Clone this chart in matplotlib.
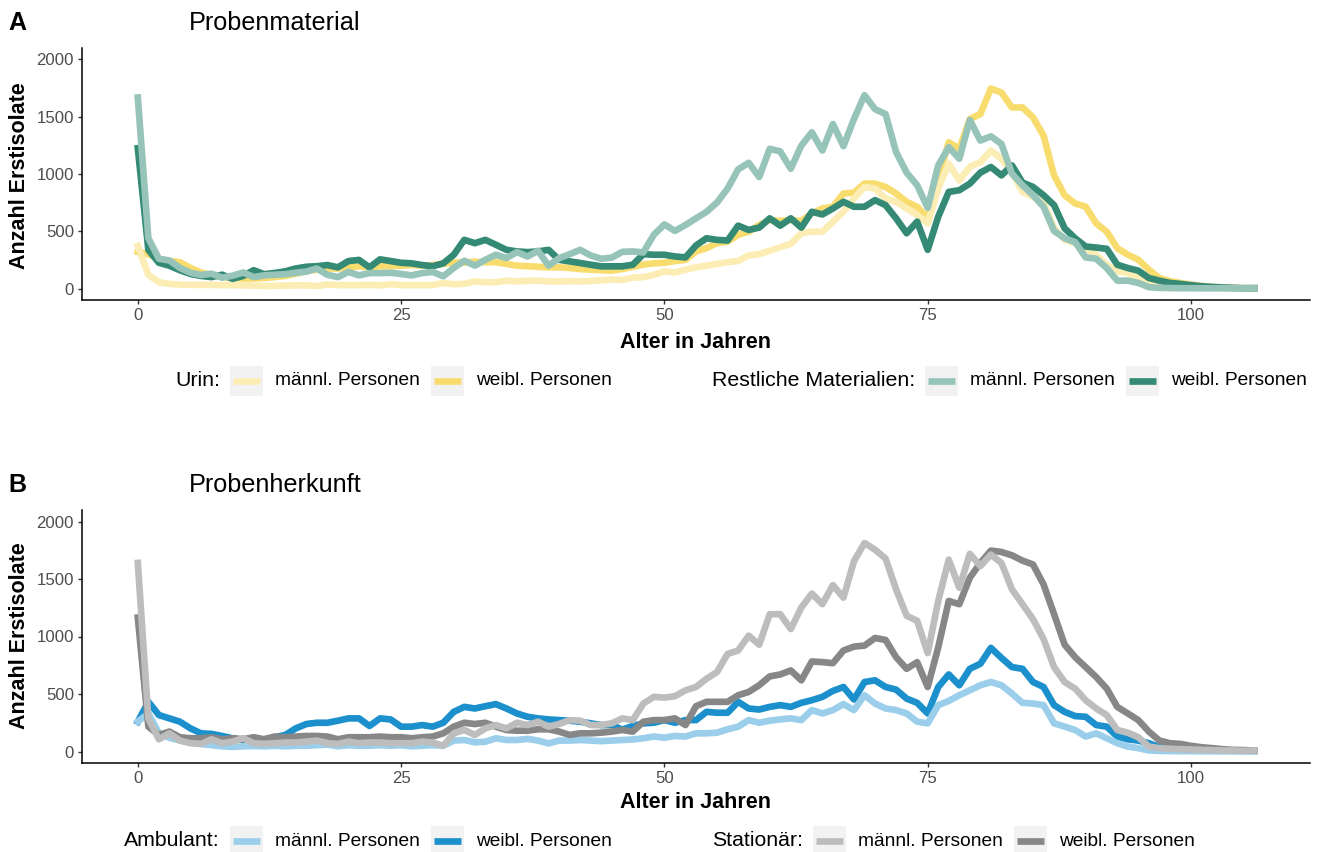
import matplotlib
matplotlib.use("Agg")
import matplotlib.pyplot as plt
from matplotlib.lines import Line2D
from matplotlib.patches import Rectangle
import numpy as np

W, H = 1323, 852
plt.rcParams["font.family"] = ["Liberation Sans", "DejaVu Sans"]

ages = np.arange(0, 107)

# Panel A: Probenmaterial
urin_m = [372, 120, 55, 40, 35, 32, 32, 32, 30, 30,
          28, 26, 22, 24, 26, 28, 28, 22, 35, 30,
          30, 30, 32, 28, 38, 30, 30, 30, 30, 48,
          38, 42, 62, 55, 55, 68, 62, 68, 68, 62,
          62, 64, 62, 66, 72, 80, 75, 95, 100, 120,
          150, 140, 165, 185, 200, 215, 230, 240, 290, 300,
          330, 360, 390, 483, 497, 497, 584, 670, 786, 887,
          873, 786, 757, 699, 642, 569, 873, 1090, 945, 1061,
          1104, 1205, 1133, 1017, 844, 800, 757, 526, 425, 396,
          353, 295, 208, 150, 136, 92, 49, 35, 26, 20,
          14, 12, 9, 6, 4, 3, 2]
urin_w = [320, 300, 260, 240, 230, 180, 140, 115, 100, 92,
          88, 88, 92, 100, 110, 130, 150, 165, 175, 175,
          185, 195, 185, 195, 195, 200, 205, 200, 205, 215,
          230, 225, 235, 230, 230, 215, 200, 195, 190, 185,
          185, 180, 170, 165, 160, 156, 170, 190, 210, 220,
          225, 240, 250, 324, 353, 396, 410, 468, 497, 555,
          598, 590, 598, 590, 656, 699, 714, 829, 838, 916,
          916, 887, 829, 757, 714, 613, 960, 1277, 1220, 1480,
          1523, 1746, 1711, 1581, 1581, 1494, 1335, 988, 815, 743,
          714, 569, 497, 353, 295, 251, 165, 92, 64, 49,
          35, 23, 14, 9, 6, 3, 3]
rest_m = [1668, 440, 260, 245, 180, 138, 118, 130, 95, 112,
          140, 100, 115, 120, 125, 138, 148, 175, 120, 100,
          145, 115, 135, 135, 138, 127, 115, 135, 145, 107,
          180, 243, 200, 251, 295, 266, 318, 280, 330, 200,
          265, 300, 338, 289, 260, 270, 320, 324, 315, 470,
          560, 503, 555, 613, 670, 751, 873, 1040, 1098, 974,
          1220, 1197, 1046, 1248, 1364, 1205, 1436, 1243, 1480, 1688,
          1566, 1523, 1191, 1012, 902, 705, 1075, 1234, 1133, 1471,
          1292, 1329, 1263, 1003, 902, 815, 714, 503, 439, 405,
          272, 260, 179, 69, 69, 49, 12, 6, 4, 3,
          3, 2, 2, 2, 2, 2, 5]
rest_w = [1225, 338, 225, 199, 160, 128, 110, 100, 121, 85,
          110, 160, 125, 136, 150, 175, 190, 195, 205, 185,
          240, 250, 185, 255, 240, 225, 220, 205, 195, 220,
          295, 425, 396, 425, 382, 338, 324, 318, 324, 338,
          251, 237, 223, 208, 194, 194, 194, 208, 300, 295,
          295, 280, 272, 376, 439, 425, 419, 549, 512, 532,
          613, 549, 613, 532, 670, 647, 699, 757, 714, 714,
          772, 728, 613, 483, 584, 338, 627, 844, 858, 916,
          1012, 1061, 988, 1075, 925, 887, 815, 728, 526, 439,
          367, 358, 347, 208, 179, 156, 92, 69, 49, 40,
          29, 20, 14, 9, 6, 3, 3]

# Panel B: Probenherkunft
amb_m = [260, 330, 160, 120, 95, 78, 65, 55, 45, 40,
         45, 48, 45, 50, 45, 50, 50, 55, 60, 45,
         55, 50, 50, 55, 50, 55, 45, 50, 55, 50,
         95, 100, 80, 85, 115, 100, 100, 110, 95, 70,
         95, 95, 100, 95, 90, 95, 100, 105, 115, 130,
         120, 135, 130, 158, 158, 164, 193, 216, 273, 250,
         268, 279, 288, 273, 360, 331, 360, 412, 360, 489,
         417, 374, 360, 331, 259, 245, 403, 440, 489, 532,
         576, 604, 576, 504, 423, 417, 403, 245, 216, 187,
         130, 158, 115, 72, 43, 29, 9, 5, 4, 3,
         3, 2, 2, 1, 1, 1, 1]
amb_w = [259, 432, 317, 288, 259, 201, 158, 153, 135, 115,
         101, 95, 106, 124, 144, 201, 239, 250, 250, 268,
         288, 288, 222, 288, 279, 216, 216, 230, 216, 250,
         345, 388, 374, 394, 412, 374, 331, 302, 288, 279,
         273, 268, 259, 245, 230, 230, 190, 222, 245, 250,
         273, 250, 273, 273, 345, 337, 337, 432, 374, 365,
         388, 403, 388, 423, 446, 475, 527, 561, 452, 604,
         619, 561, 538, 460, 423, 331, 561, 670, 576, 719,
         763, 901, 814, 734, 719, 604, 561, 403, 345, 308,
         302, 230, 216, 130, 106, 95, 72, 37, 29, 20,
         17, 14, 12, 9, 9, 6, 6]
stat_m = [1640, 288, 106, 158, 95, 72, 66, 106, 72, 86,
          115, 72, 66, 72, 78, 78, 86, 95, 72, 66,
          86, 72, 78, 78, 72, 72, 72, 86, 78, 49,
          158, 187, 144, 201, 230, 201, 250, 230, 259, 216,
          239, 273, 268, 230, 230, 245, 288, 273, 417, 475,
          469, 481, 532, 561, 633, 691, 849, 878, 1007, 929,
          1194, 1194, 1065, 1252, 1373, 1281, 1447, 1338, 1655, 1813,
          1755, 1678, 1410, 1180, 1137, 855, 1309, 1669, 1424, 1719,
          1612, 1712, 1640, 1410, 1281, 1151, 978, 734, 604, 547,
          446, 374, 317, 187, 164, 124, 43, 29, 23, 20,
          17, 14, 12, 9, 9, 6, 9]
stat_w = [1165, 216, 144, 173, 124, 115, 115, 124, 106, 115,
          106, 124, 106, 130, 124, 130, 135, 135, 130, 106,
          124, 124, 124, 130, 124, 124, 115, 124, 130, 158,
          216, 250, 239, 250, 216, 187, 181, 181, 193, 193,
          173, 144, 158, 158, 164, 173, 187, 173, 259, 273,
          273, 288, 230, 394, 432, 432, 432, 489, 518, 576,
          653, 670, 705, 619, 783, 777, 768, 878, 912, 921,
          987, 970, 820, 719, 777, 561, 906, 1309, 1281, 1511,
          1640, 1747, 1735, 1706, 1660, 1626, 1453, 1194, 929, 820,
          734, 647, 547, 388, 331, 273, 173, 95, 72, 66,
          49, 37, 29, 20, 14, 12, 9]

y_ticks = [0, 500, 1000, 1500, 2000]
x_ticks = [0, 25, 50, 75, 100]

col_urin_m, col_urin_w = "#FCEDB5", "#F9DC6E"
col_rest_m, col_rest_w = "#97C4B8", "#348A75"
col_amb_m, col_amb_w = "#9BCEEA", "#1C90CC"
col_stat_m, col_stat_w = "#BDBDBD", "#878787"

LW = 4.8
TICK_COL = "#4D4D4D"


def fx(px):
    return px / W


def fy(py):
    return 1 - py / H


def make_axes(fig, top, bottom):
    ax = fig.add_axes([fx(82), fy(bottom), fx(1310) - fx(82), fy(top) - fy(bottom)])
    ax.set_xlim(-5.3, 111.3)
    ax.set_ylim(-100, 2100)
    ax.set_xticks(x_ticks)
    ax.set_yticks(y_ticks)
    for s in ("top", "right"):
        ax.spines[s].set_visible(False)
    for s in ("left", "bottom"):
        ax.spines[s].set_linewidth(1.1)
        ax.spines[s].set_color("black")
    ax.tick_params(length=3.2, width=1.0, color="#333333", labelsize=12.1,
                   labelcolor=TICK_COL, pad=2.5)
    return ax


def legend_key(fig, x, yc, color):
    fig.patches.append(Rectangle((fx(x), fy(yc + 15)), 33 / W, 30 / H,
                                 transform=fig.transFigure, facecolor="#F2F2F2",
                                 edgecolor="none"))
    fig.lines.append(Line2D([fx(x + 3), fx(x + 30)], [fy(yc), fy(yc)],
                            transform=fig.transFigure, color=color,
                            linewidth=LW, solid_capstyle="butt"))


def legend_row(fig, yc, groups):
    for title, tx, entries in groups:
        fig.text(fx(tx), fy(yc), title, ha="left", va="center", fontsize=15.3)
        for kx, color, label in entries:
            legend_key(fig, kx, yc, color)
            fig.text(fx(kx + 45), fy(yc), label, ha="left", va="center", fontsize=13.8)


fig = plt.figure(figsize=(W / 100, H / 100), dpi=100)

axA = make_axes(fig, 48, 300)
axA.plot(ages, urin_w, color=col_urin_w, lw=LW)
axA.plot(ages, urin_m, color=col_urin_m, lw=LW)
axA.plot(ages, rest_w, color=col_rest_w, lw=LW)
axA.plot(ages, rest_m, color=col_rest_m, lw=LW)

axB = make_axes(fig, 510, 763)
axB.plot(ages, amb_w, color=col_amb_w, lw=LW)
axB.plot(ages, amb_m, color=col_amb_m, lw=LW)
axB.plot(ages, stat_w, color=col_stat_w, lw=LW)
axB.plot(ages, stat_m, color=col_stat_m, lw=LW)

for ax, ymid, xlab_y in ((axA, 176, 343), (axB, 636, 803)):
    fig.text(fx(20), fy(ymid), "Anzahl Erstisolate", rotation=90, ha="center",
             va="center", fontsize=15.5, fontweight="bold")
    fig.text(fx(696), fy(xlab_y), "Alter in Jahren", ha="center", va="center",
             fontsize=15.5, fontweight="bold")

fig.text(fx(8), fy(23), "A", ha="left", va="center", fontsize=18, fontweight="bold")
fig.text(fx(189), fy(23), "Probenmaterial", ha="left", va="center", fontsize=18.2)
fig.text(fx(8), fy(485), "B", ha="left", va="center", fontsize=18, fontweight="bold")
fig.text(fx(189), fy(485), "Probenherkunft", ha="left", va="center", fontsize=18.2)

legend_row(fig, 381, [
    ("Urin:", 175, [(230, col_urin_m, "männl. Personen"), (431, col_urin_w, "weibl. Personen")]),
    ("Restliche Materialien:", 712, [(925, col_rest_m, "männl. Personen"), (1126, col_rest_w, "weibl. Personen")]),
])
legend_row(fig, 841, [
    ("Ambulant:", 124, [(230, col_amb_m, "männl. Personen"), (431, col_amb_w, "weibl. Personen")]),
    ("Stationär:", 712, [(813, col_stat_m, "männl. Personen"), (1014, col_stat_w, "weibl. Personen")]),
])

fig.savefig("out.png", dpi=100)
